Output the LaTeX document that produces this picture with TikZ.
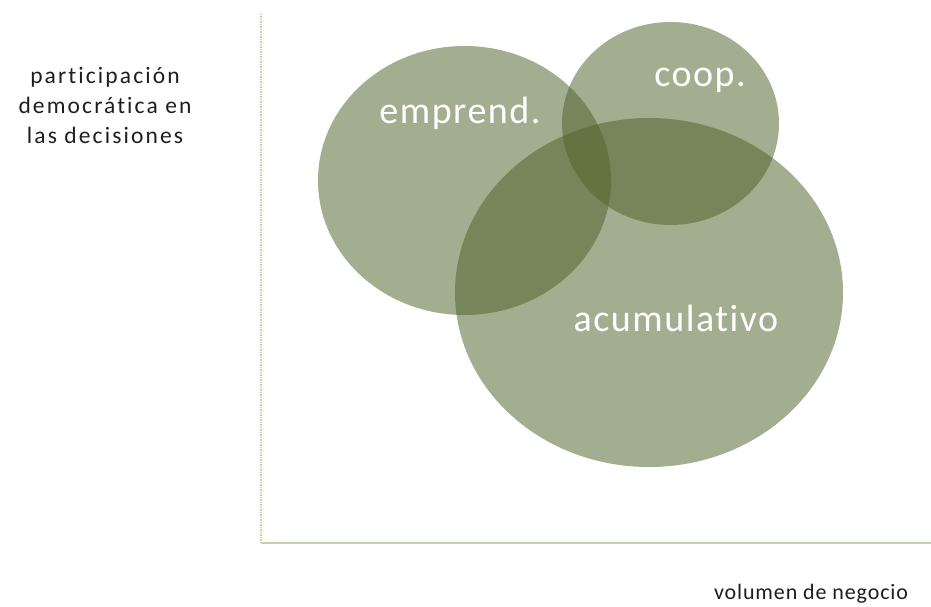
\documentclass[tikz,border=0pt]{standalone}
\usepackage{fontspec}
\setmainfont{Carlito}[Ligatures=NoCommon]
\newfontfamily\axisfont{Carlito}[LetterSpace=9,Ligatures=NoCommon]
\newfontfamily\xaxisfont{Carlito}[LetterSpace=4,Ligatures=NoCommon,WordSpace=0.6]
\newfontfamily\bubfont{Carlito}[LetterSpace=4,Ligatures=NoCommon]
\definecolor{bub}{RGB}{81,100,44}
\definecolor{axcol}{RGB}{196,212,166}
\definecolor{txt}{RGB}{30,30,30}
\tikzset{
  bubble/.style={fill=bub, fill opacity=0.53},
  bublabel/.style={text=white, font=\bubfont\fontsize{38}{44}\selectfont, inner sep=0pt, anchor=base},
  axlabel/.style={text=txt, font=\axisfont\fontsize{23.5}{30}\selectfont, inner sep=0pt, align=center},
  xaxlabel/.style={text=txt, font=\xaxisfont\fontsize{22}{30}\selectfont, inner sep=0pt, anchor=base},
}
\begin{document}
\begin{tikzpicture}[x=1pt,y=-1pt]
\useasboundingbox (0,0) rectangle (931,607);
% axes
\draw[axcol, line width=2.2pt, dash pattern=on 1.5pt off 1pt] (261,14) -- (261,543);
\draw[axcol, line width=2.2pt] (261,543) -- (931,543);
% bubbles
\fill[bubble] (464.5,180.5) ellipse [x radius=146.5, y radius=134.5];
\fill[bubble] (670.5,123.5) ellipse [x radius=108.5, y radius=101.5];
\fill[bubble] (649,292.5) ellipse [x radius=194, y radius=174.5];
% labels
\node[bublabel] (emp) at (460,124) {emprend.};
\node[bublabel] (coo) at (700,87) {coop.};
\node[bublabel] (acu) at (676,331) {acumulativo};
\node[axlabel] (ylab) at (105,106) {participación\\democrática en\\las decisiones};
\node[xaxlabel] (xlab) at (811,599) {volumen de negocio};
\end{tikzpicture}
\end{document}
